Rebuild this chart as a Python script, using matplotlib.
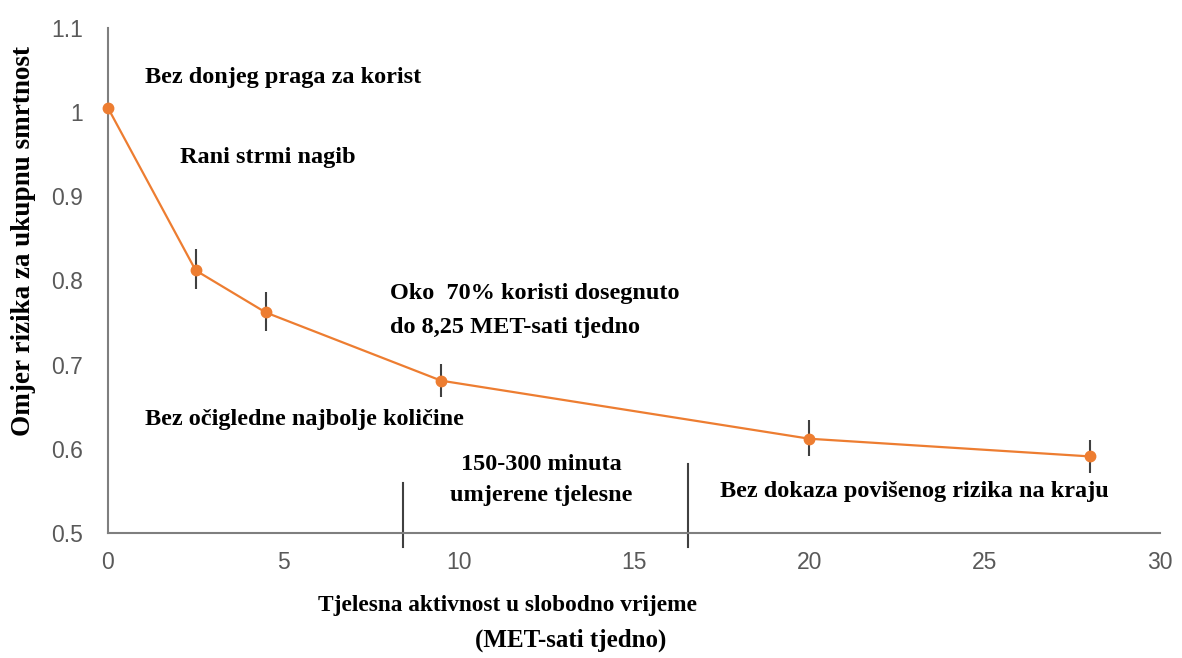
import numpy as np
import matplotlib
matplotlib.use('Agg')
from matplotlib import pyplot as plt

# Data
met_hours = [0, 2.5, 4.5, 9.5, 20, 28]
hazard_ratio = [1.005, 0.812, 0.762, 0.681, 0.612, 0.591]
err_low = [0, 0.022, 0.022, 0.02, 0.02, 0.02]
err_high = [0, 0.025, 0.024, 0.02, 0.022, 0.02]

# Reference lines (MET-hours per week) and their top heights
ref_x = [8.4, 16.55]
ref_top = [0.559, 0.582]

x_ticks = [0, 5, 10, 15, 20, 25, 30]
y_ticks = [0.5, 0.6, 0.7, 0.8, 0.9, 1.0, 1.1]
y_tick_labels = ['0.5', '0.6', '0.7', '0.8', '0.9', '1', '1.1']

orange = '#ED7D31'
grey_axis = '#595959'
serif = ['Liberation Serif', 'DejaVu Serif']
sans = ['Liberation Sans', 'DejaVu Sans']

fig = plt.figure(figsize=(11.82, 6.58), dpi=100)
ax = fig.add_axes([108 / 1182, 1 - 533 / 658, (1160 - 108) / 1182, (533 - 28) / 658])

# Error bars first so the markers sit on top
ax.errorbar(met_hours, hazard_ratio, yerr=[err_low, err_high], fmt='none',
            ecolor='#404040', elinewidth=1.5, capsize=0, zorder=2)
ax.plot(met_hours, hazard_ratio, color=orange, linewidth=1.6, marker='o',
        markersize=7.5, zorder=3, clip_on=False)

# Vertical separators, running slightly below the x axis
for xv, top in zip(ref_x, ref_top):
    ax.plot([xv, xv], [0.483, top], color='#404040', linewidth=1.5, clip_on=False)

ax.set_xlim(0, 30)
ax.set_ylim(0.5, 1.1)
ax.set_xticks(x_ticks)
ax.set_yticks(y_ticks)
ax.set_yticklabels(y_tick_labels)
ax.tick_params(length=0, labelsize=16.5, colors=grey_axis)
ax.tick_params(axis='y', pad=18)
ax.tick_params(axis='x', pad=13)
for lab in ax.get_xticklabels() + ax.get_yticklabels():
    lab.set_family(sans)

for side in ['top', 'right']:
    ax.spines[side].set_visible(False)
for side in ['left', 'bottom']:
    ax.spines[side].set_color('#7f7f7f')
    ax.spines[side].set_linewidth(1.5)

# Annotations
txt = dict(family=serif, fontweight='bold', fontsize=17.5, color='black',
           transform=fig.transFigure, va='center')
fig.text(145 / 1182, 1 - 77 / 658, 'Bez donjeg praga za korist', **txt)
fig.text(180 / 1182, 1 - 158 / 658, 'Rani strmi nagib', **txt)
fig.text(390 / 1182, 1 - 293 / 658, 'Oko  70% koristi dosegnuto', **txt)
fig.text(390 / 1182, 1 - 327 / 658, 'do 8,25 MET-sati tjedno', **txt)
fig.text(145 / 1182, 1 - 420 / 658, 'Bez očigledne najbolje količine', **txt)
fig.text(541 / 1182, 1 - 465 / 658, '150-300 minuta', ha='center', **txt)
fig.text(541 / 1182, 1 - 495 / 658, 'umjerene tjelesne', ha='center', **txt)
fig.text(720 / 1182, 1 - 492 / 658, 'Bez dokaza povišenog rizika na kraju', **txt)

# Axis titles
lab = dict(family=serif, fontweight='bold', color='black',
           transform=fig.transFigure, ha='center', va='center')
fig.text(507 / 1182, 1 - 605 / 658, 'Tjelesna aktivnost u slobodno vrijeme', fontsize=16.8, **lab)
fig.text(571 / 1182, 1 - 640 / 658, '(MET-sati tjedno)', fontsize=18, **lab)
fig.text(24 / 1182, 1 - 241 / 658, 'Omjer rizika za ukupnu smrtnost', rotation=90,
         fontsize=19.5, **lab)

fig.savefig('out.png', dpi=100)
